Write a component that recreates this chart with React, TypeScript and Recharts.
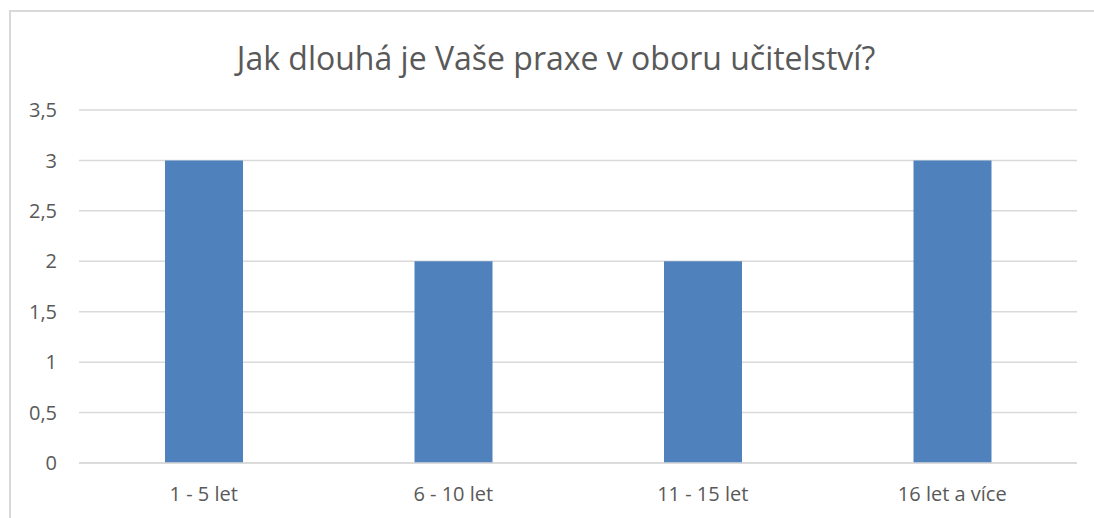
import React from 'react';
import { BarChart, Bar, XAxis, YAxis, CartesianGrid } from 'recharts';

const categories = ['1 - 5 let', '6 - 10 let', '11 - 15 let', '16 let a více'];
const counts = [3, 2, 2, 3];
const yTicks = [0, 0.5, 1, 1.5, 2, 2.5, 3, 3.5];

const data = categories.map((name, i) => ({ name, value: counts[i] }));

const FONT = '"Open Sans", "Noto Sans", sans-serif';
const TEXT = '#595959';
const GRID = '#d9d9d9';

export default function App() {
  return <div style={{
    position: 'fixed',
    left: 0,
    top: 0,
    width: 1094,
    height: 518,
    overflow: 'hidden',
    background: '#fff',
    fontFamily: FONT
  }}>
      {/* chart frame: only top and left edges fall inside the crop */}
      <div style={{
      position: 'absolute',
      left: 9,
      top: 10,
      right: 0,
      bottom: 0,
      borderTop: `2px solid ${GRID}`,
      borderLeft: `2px solid ${GRID}`
    }} />
      <div style={{
      position: 'absolute',
      left: 0,
      width: 1112,
      top: 36,
      textAlign: 'center',
      fontSize: 32,
      color: TEXT,
      lineHeight: '44px',
      whiteSpace: 'nowrap'
    }}>
        Jak dlouhá je Vaše praxe v oboru učitelství?
      </div>
      <div style={{ position: 'absolute', left: 0, top: 0 }}>
        <BarChart width={1094} height={518} data={data} margin={{ top: 110, right: 17, bottom: 25, left: 0 }}>
          <CartesianGrid vertical={false} stroke={GRID} strokeWidth={1.5} />
          <XAxis dataKey="name" height={30} axisLine={{ stroke: GRID, strokeWidth: 1.5 }} tickLine={false} tickMargin={18} tick={{ fill: TEXT, fontSize: 20, fontFamily: FONT }} />
          <YAxis width={79} domain={[0, 3.5]} ticks={yTicks} interval={0} axisLine={false} tickLine={false} tickSize={0} tickMargin={22} tickFormatter={(v: number) => String(v).replace('.', ',')} tick={{ fill: TEXT, fontSize: 20, fontFamily: FONT }} />
          <Bar dataKey="value" fill="#4f81bd" barSize={78} isAnimationActive={false} />
        </BarChart>
      </div>
    </div>;
}
